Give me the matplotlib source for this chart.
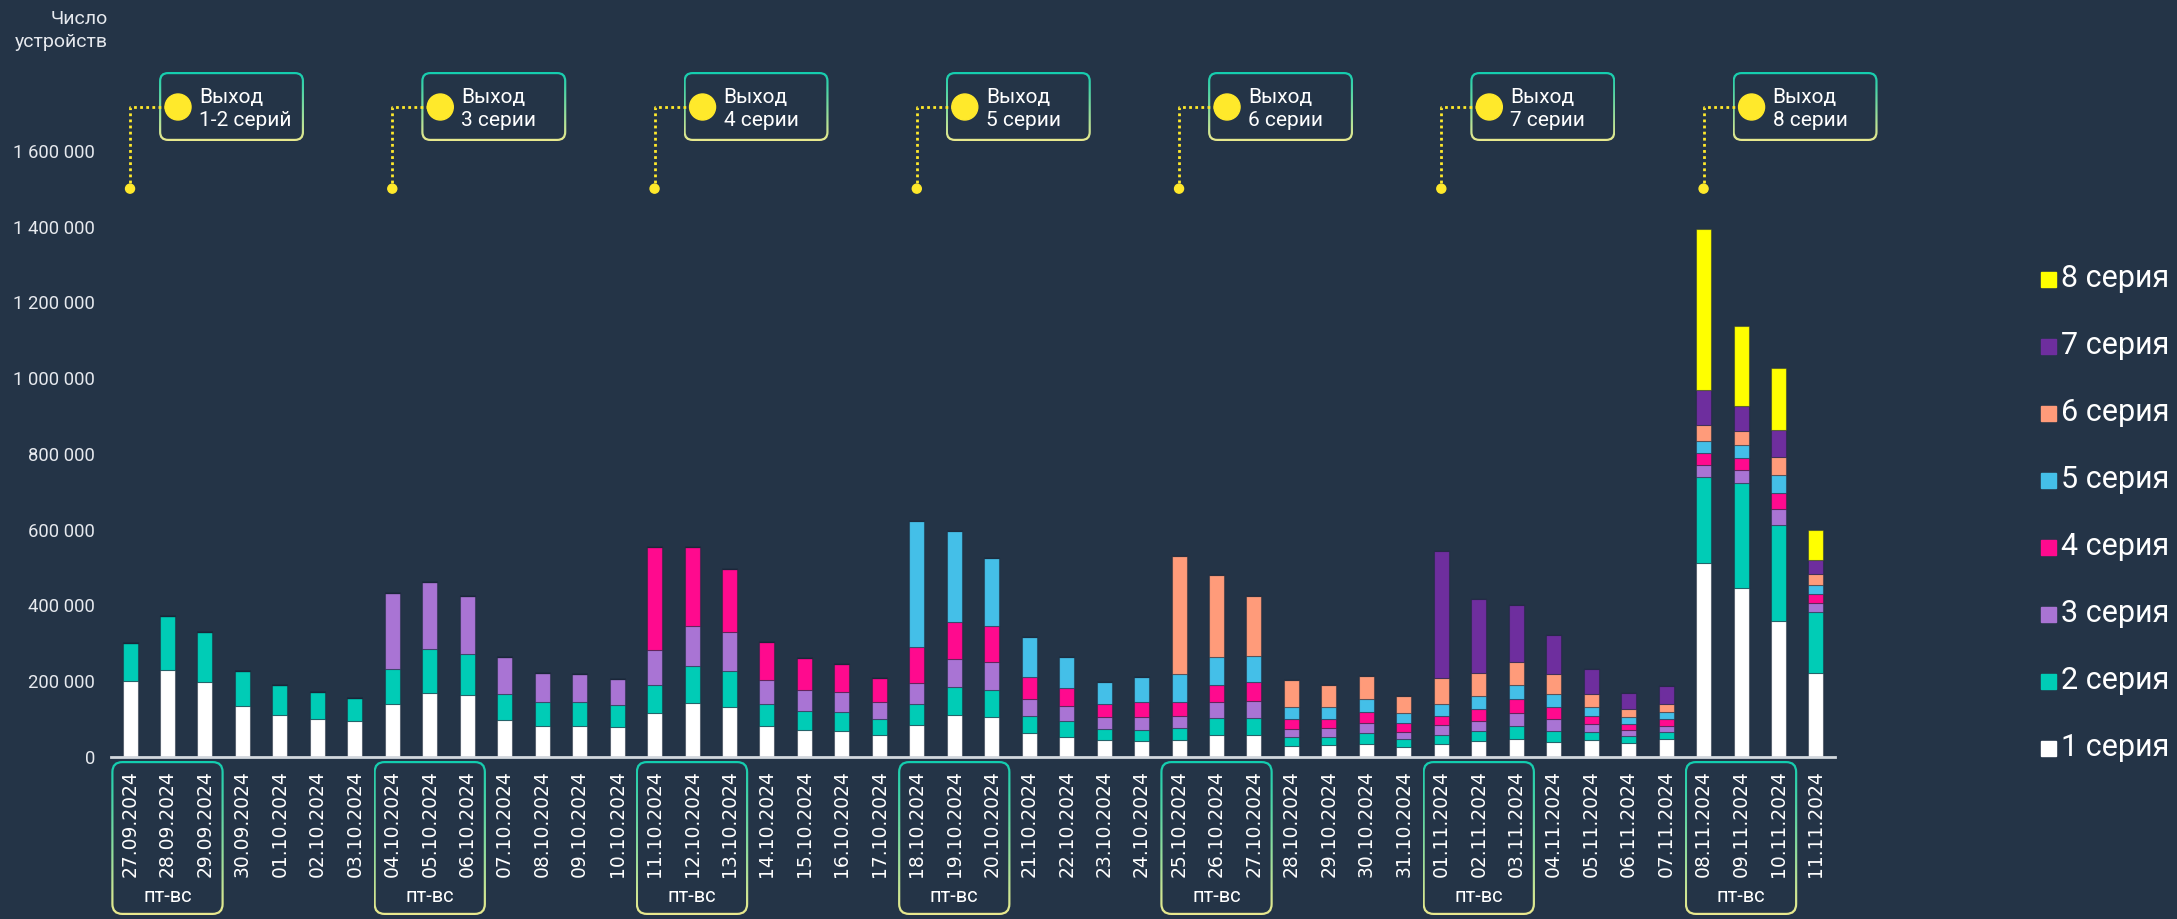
import matplotlib
matplotlib.use('Agg')
import matplotlib.pyplot as plt
import numpy as np
from matplotlib.patches import FancyBboxPatch, Rectangle, Circle
from matplotlib.colors import LinearSegmentedColormap

plt.rcParams['font.family'] = ['Roboto', 'DejaVu Sans']

# ---------------- data ----------------
dates = ['27.09.2024', '28.09.2024', '29.09.2024', '30.09.2024', '01.10.2024', '02.10.2024', '03.10.2024',
         '04.10.2024', '05.10.2024', '06.10.2024', '07.10.2024', '08.10.2024', '09.10.2024', '10.10.2024',
         '11.10.2024', '12.10.2024', '13.10.2024', '14.10.2024', '15.10.2024', '16.10.2024', '17.10.2024',
         '18.10.2024', '19.10.2024', '20.10.2024', '21.10.2024', '22.10.2024', '23.10.2024', '24.10.2024',
         '25.10.2024', '26.10.2024', '27.10.2024', '28.10.2024', '29.10.2024', '30.10.2024', '31.10.2024',
         '01.11.2024', '02.11.2024', '03.11.2024', '04.11.2024', '05.11.2024', '06.11.2024', '07.11.2024',
         '08.11.2024', '09.11.2024', '10.11.2024', '11.11.2024']

series_names = ['1 серия', '2 серия', '3 серия', '4 серия', '5 серия', '6 серия', '7 серия', '8 серия']

# values in thousands of devices
s1 = [200, 230, 198, 135, 112, 101, 95, 139, 169, 163, 98, 83, 83, 79, 115, 143, 132, 82, 71, 69, 59,
      85, 110, 105, 63, 54, 45, 41, 44, 59, 58, 29, 31, 35, 26, 35, 41, 48, 40, 45, 37, 48, 511, 447, 360, 223]
s2 = [100, 142, 132, 91, 77, 70, 61, 93, 115, 110, 69, 63, 61, 59, 74, 98, 94, 57, 51, 50, 41,
      56, 74, 73, 45, 41, 29, 31, 33, 44, 45, 24, 22, 28, 21, 24, 28, 35, 29, 22, 19, 18, 227, 277, 251, 159]
s3 = [0, 0, 0, 0, 0, 0, 0, 200, 177, 152, 96, 77, 74, 67, 94, 105, 104, 65, 55, 52, 45,
      55, 75, 73, 45, 40, 31, 33, 31, 42, 45, 21, 24, 27, 19, 26, 27, 33, 31, 20, 15, 17, 33, 34, 44, 25]
s4 = [0, 0, 0, 0, 0, 0, 0, 0, 0, 0, 0, 0, 0, 0, 270, 209, 166, 99, 84, 74, 63,
      95, 96, 94, 58, 48, 36, 39, 37, 46, 50, 26, 23, 29, 23, 23, 31, 36, 32, 21, 17, 17, 32, 32, 43, 24]
s5 = [0, 0, 0, 0, 0, 0, 0, 0, 0, 0, 0, 0, 0, 0, 0, 0, 0, 0, 0, 0, 0,
      333, 241, 179, 107, 82, 58, 66, 75, 73, 68, 32, 32, 35, 26, 33, 34, 39, 35, 24, 18, 19, 32, 34, 45, 24]
s6 = [0, 0, 0, 0, 0, 0, 0, 0, 0, 0, 0, 0, 0, 0, 0, 0, 0, 0, 0, 0, 0,
      0, 0, 0, 0, 0, 0, 0, 311, 216, 159, 71, 57, 61, 45, 68, 60, 60, 51, 35, 21, 21, 42, 37, 48, 28]
s7 = [0, 0, 0, 0, 0, 0, 0, 0, 0, 0, 0, 0, 0, 0, 0, 0, 0, 0, 0, 0, 0,
      0, 0, 0, 0, 0, 0, 0, 0, 0, 0, 0, 0, 0, 0, 334, 195, 150, 105, 65, 43, 47, 92, 66, 71, 38]
s8 = [0, 0, 0, 0, 0, 0, 0, 0, 0, 0, 0, 0, 0, 0, 0, 0, 0, 0, 0, 0, 0,
      0, 0, 0, 0, 0, 0, 0, 0, 0, 0, 0, 0, 0, 0, 0, 0, 0, 0, 0, 0, 0, 424, 210, 164, 78]

release_idx = [0, 7, 14, 21, 28, 35, 42]
release_labels = ['Выход\n1-2 серий', 'Выход\n3 серии', 'Выход\n4 серии', 'Выход\n5 серии',
                  'Выход\n6 серии', 'Выход\n7 серии', 'Выход\n8 серии']
weekend_label = 'пт-вс'
y_ticks = [0, 200000, 400000, 600000, 800000, 1000000, 1200000, 1400000, 1600000]

# ---------------- style ----------------
BG = '#243447'
colors = ['#ffffff', '#00ccb6', '#a974d4', '#ff0a8e', '#44bfe8', '#ff9b7a', '#6e2e9e', '#ffff00']
YELLOW = '#ffe92b'
grad_cmap = LinearSegmentedColormap.from_list('g', ['#12cdb0', '#eae98e'])

W, H = 2177, 919
fig = plt.figure(figsize=(W / 100, H / 100), dpi=100, facecolor=BG)

# overlay (pixel coordinates, origin top-left) underneath main axes
ov = fig.add_axes([0, 0, 1, 1], zorder=0)
ov.axis('off')

ax_left, ax_right = 111.3, 1834.7
zero_y, top_y = 757, 75
ax = fig.add_axes([ax_left / W, (H - zero_y) / H, (ax_right - ax_left) / W, (zero_y - top_y) / H], zorder=1)
ax.set_facecolor('none')

series = [s1, s2, s3, s4, s5, s6, s7, s8]
n = len(dates)
x = np.arange(n)
bottom = np.zeros(n)
for vals, c in zip(series, colors):
    v = np.array(vals, dtype=float) * 1000
    ax.bar(x, v, 0.4, bottom=bottom, color=c, edgecolor=(0.1, 0.15, 0.22, 0.45), linewidth=0.8, zorder=2)
    bottom += v

ax.set_xlim(-0.5, n - 0.5)
ax.set_ylim(0, 1800000)
ax.set_yticks(y_ticks)
ax.set_yticklabels([f"{v:,}".replace(',', ' ') for v in y_ticks])
ax.tick_params(axis='y', length=0, pad=11.5, labelsize=13.3, labelcolor='#e6e9ee')
ax.set_xticks(x)
ax.set_xticklabels(dates, rotation=90, va='top', ha='center', family=['DejaVu Sans'])
ax.tick_params(axis='x', length=0, pad=9.4, labelsize=13.5, labelcolor='#ffffff')
for s in ['top', 'right', 'left']:
    ax.spines[s].set_visible(False)
ax.spines['bottom'].set_color('#d3d8de')
ax.spines['bottom'].set_linewidth(2)


def to_px(xd, yd):
    px, py = ax.transData.transform((xd, yd))
    return px, H - py


def grad_box(x0, y0, w, h, r, lw=2.2):
    outer = FancyBboxPatch((x0, y0), w, h, boxstyle=f"round,pad=0,rounding_size={r}",
                           facecolor='none', edgecolor='none', zorder=1)
    ov.add_patch(outer)
    grad = np.linspace(0, 1, 256).reshape(-1, 1)
    im = ov.imshow(grad, cmap=grad_cmap, extent=(x0, x0 + w, y0 + h, y0), aspect='auto',
                   interpolation='bilinear', zorder=2)
    im.set_clip_path(outer)
    inner = FancyBboxPatch((x0 + lw, y0 + lw), w - 2 * lw, h - 2 * lw,
                           boxstyle=f"round,pad=0,rounding_size={r - lw}",
                           facecolor=BG, edgecolor='none', zorder=3)
    ov.add_patch(inner)


# release annotations
for idx, lab in zip(release_idx, release_labels):
    px, py = to_px(idx, 1500000)
    box_x0 = px + 29
    grad_box(box_x0, 72, 145, 69, 9)
    cy = 107
    cx = px + 48
    ov.plot([px, px, cx - 12], [py, cy, cy], color=YELLOW, linestyle=(0, (1, 1.2)), lw=2, zorder=4)
    ov.add_patch(Circle((px, py), 4.5, color=YELLOW, zorder=5))
    ov.add_patch(Circle((cx, cy), 13, color=YELLOW, zorder=5))
    l1, l2 = lab.split('\n')
    ov.text(px + 69, 97, l1, fontsize=15, color='white', va='center', ha='left', zorder=6)
    ov.text(px + 69, 120, l2, fontsize=15, color='white', va='center', ha='left', zorder=6)

# weekend boxes
for idx in release_idx:
    lx, _ = to_px(idx - 0.5, 0)
    rx, _ = to_px(idx + 2.5, 0)
    grad_box(lx, 761, rx - lx, 154, 11)
    mx, _ = to_px(idx + 1, 0)
    ov.text(mx, 897, weekend_label, fontsize=14.5, color='white', ha='center', va='center', zorder=6)

# y axis title
ov.text(108, 19, 'Число', fontsize=14, color='#e6e9ee', ha='right', va='center')
ov.text(108, 42, 'устройств', fontsize=14, color='#e6e9ee', ha='right', va='center')

# legend (8 -> 1 top to bottom)
for k in range(8):
    si = 7 - k
    yc = 279.5 + k * 67
    ov.add_patch(Rectangle((2041, yc - 7.5), 15, 15, color=colors[si], zorder=5))
    ov.text(2061, yc + 7.5, series_names[si], fontsize=22, color='white', ha='left', va='baseline', zorder=6)

ov.set_xlim(0, W)
ov.set_ylim(H, 0)

fig.savefig('out.png', dpi=100, facecolor=BG)
